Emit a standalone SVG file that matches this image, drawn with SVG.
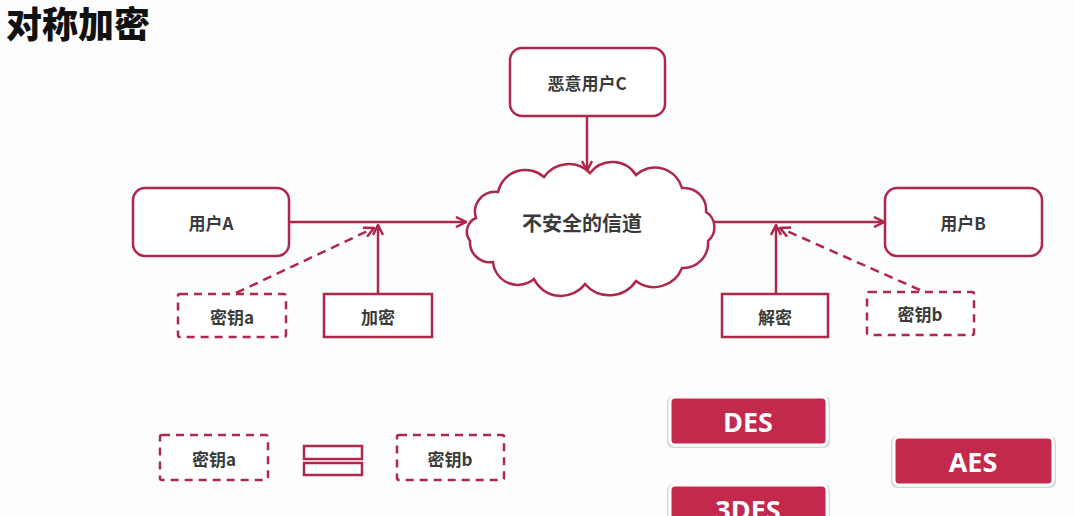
<svg xmlns="http://www.w3.org/2000/svg" width="1075" height="516" viewBox="0 0 1075 516">
<defs>
<style>
.box{fill:#fff;stroke:#ad284b;stroke-width:2.5}
.dash{fill:#fff;stroke:#ad284b;stroke-width:2.5;stroke-dasharray:8 6}
.line{fill:none;stroke:#ad284b;stroke-width:2.5}
.dline{fill:none;stroke:#ad284b;stroke-width:2.5;stroke-dasharray:9 6}
.lbl{font-family:"Noto Sans CJK SC","Liberation Sans",sans-serif;font-weight:bold;font-size:17px;fill:#3a3a3a;text-anchor:middle;dominant-baseline:central}
.btn{fill:#c2294c;stroke:#fff;stroke-width:3}
.btnsh{fill:#d8d8d8}
.btxt{font-family:"Open Sans","Liberation Sans",sans-serif;font-weight:bold;font-size:27px;fill:#fff;text-anchor:middle;dominant-baseline:central}
</style>
<marker id="arr" viewBox="0 0 12 12" refX="11" refY="6" markerWidth="12" markerHeight="12" markerUnits="userSpaceOnUse" orient="auto">
<path d="M1,1 L11,6 L1,11" fill="none" stroke="#ad284b" stroke-width="2.5"/>
</marker>
</defs>
<rect width="1075" height="516" fill="#fdfdfd"/>
<text x="6" y="38" font-family="Noto Sans CJK SC, sans-serif" font-weight="900" font-size="36" fill="#111">对称加密</text>

<g id="connectors">
<line class="line" x1="290" y1="222" x2="466" y2="222" marker-end="url(#arr)"/>
<line class="line" x1="378" y1="294" x2="378" y2="225" marker-end="url(#arr)"/>
<line class="dline" x1="236" y1="293" x2="374" y2="228" marker-end="url(#arr)"/>
<line class="line" x1="587" y1="116" x2="587" y2="171" marker-end="url(#arr)"/>
<line class="line" x1="710" y1="222" x2="884" y2="222" marker-end="url(#arr)"/>
<line class="line" x1="776" y1="294" x2="776" y2="225" marker-end="url(#arr)"/>
<line class="dline" x1="920" y1="290" x2="780" y2="228" marker-end="url(#arr)"/>
</g>

<g id="userA"><rect class="box" x="133" y="188" width="156" height="68" rx="12"/><text class="lbl" x="211" y="222">用户A</text></g>
<g id="userC"><rect class="box" x="510" y="48" width="155" height="68" rx="12"/><text class="lbl" x="587" y="82">恶意用户C</text></g>
<g id="userB"><rect class="box" x="885" y="188" width="157" height="68" rx="12"/><text class="lbl" x="963" y="222">用户B</text></g>
<g id="channel">
<path class="box" d="M476 218 A20 20 0 0 1 498 192 A28 28 0 0 1 544 177 A30 30 0 0 1 590 173 A28 28 0 0 1 636 175 A28 28 0 0 1 682 188 A22 22 0 0 1 706 212 A18 18 0 0 1 708 241 A25 25 0 0 1 682 268 A30 30 0 0 1 636 281 A32 32 0 0 1 585 284 A30 30 0 0 1 534 279 A25 25 0 0 1 493 262 A20 20 0 0 1 470 241 A15 15 0 0 1 476 218 Z"/>
<text class="lbl" x="582" y="222" style="font-size:20px">不安全的信道</text>
</g>
<g id="keyA"><rect class="dash" x="178" y="294" width="108" height="43" rx="2"/><text class="lbl" x="232" y="316">密钥a</text></g>
<g id="encrypt"><rect class="box" x="324" y="294" width="108" height="43"/><text class="lbl" x="378" y="316">加密</text></g>
<g id="decrypt"><rect class="box" x="722" y="294" width="106" height="43"/><text class="lbl" x="775" y="316">解密</text></g>
<g id="keyB"><rect class="dash" x="867" y="292" width="107" height="43" rx="2"/><text class="lbl" x="920" y="313">密钥b</text></g>

<g id="keyA2"><rect class="dash" x="160" y="435" width="108" height="45" rx="2"/><text class="lbl" x="214" y="458">密钥a</text></g>
<g id="equals"><rect class="box" x="304" y="446" width="58" height="13"/><rect class="box" x="304" y="463" width="58" height="12"/></g>
<g id="keyB2"><rect class="dash" x="397" y="435" width="107" height="45" rx="2"/><text class="lbl" x="450" y="458">密钥b</text></g>

<g id="des"><rect class="btnsh" x="667" y="396" width="163" height="52" rx="6"/><rect class="btn" x="670" y="397" width="157" height="48" rx="5"/><text class="btxt" x="748" y="421">DES</text></g>
<g id="aes"><rect class="btnsh" x="891" y="436" width="165" height="52" rx="6"/><rect class="btn" x="894" y="437" width="159" height="48" rx="5"/><text class="btxt" x="973" y="461">AES</text></g>
<g id="des3"><rect class="btnsh" x="667" y="484" width="163" height="52" rx="6"/><rect class="btn" x="670" y="485" width="157" height="48" rx="5"/><text class="btxt" x="748" y="509">3DES</text></g>
</svg>
